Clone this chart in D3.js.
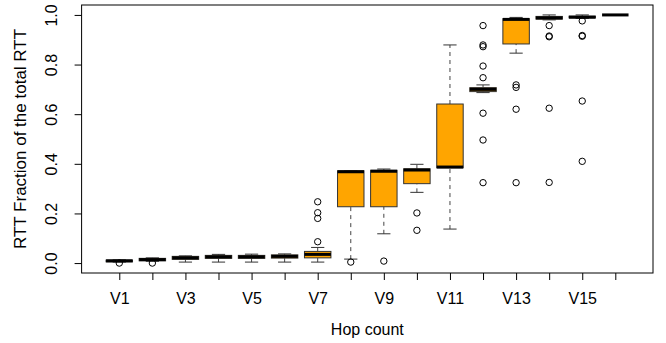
<!DOCTYPE html>
<html>
<head>
<meta charset="utf-8">
<script src="https://cdnjs.cloudflare.com/ajax/libs/d3/7.8.5/d3.min.js"></script>
<style>
  body { margin: 0; background: #fff; }
  text { font-family: "Liberation Sans", Arial, sans-serif; }
</style>
</head>
<body>
<svg id="chart" width="666" height="343"></svg>
<script>
// hop categories
const hops = ['V1','V2','V3','V4','V5','V6','V7','V8','V9','V10','V11','V12','V13','V14','V15','V16'];

// box statistics per hop (fraction of total RTT)
const whiskerLow  = [0.004, 0.007, 0.004, 0.004, 0.004, 0.004, 0.004, 0.016, 0.118, 0.285, 0.137, 0.687, 0.846, 0.980, 0.986, 1.0];
const q1          = [0.005, 0.009, 0.015, 0.019, 0.019, 0.020, 0.021, 0.227, 0.227, 0.320, 0.384, 0.691, 0.883, 0.983, 0.988, 1.0];
const medians     = [0.009, 0.014, 0.021, 0.025, 0.025, 0.027, 0.035, 0.368, 0.370, 0.375, 0.387, 0.700, 0.982, 0.988, 0.991, 1.0];
const q3          = [0.012, 0.019, 0.027, 0.031, 0.031, 0.033, 0.047, 0.372, 0.374, 0.380, 0.641, 0.707, 0.985, 0.994, 0.995, 1.0];
const whiskerHigh = [0.013, 0.021, 0.029, 0.035, 0.036, 0.037, 0.063, 0.372, 0.379, 0.398, 0.879, 0.718, 0.990, 1.0, 1.0, 1.0];
const outliers = [
  [0.0], [0.0], [], [], [], [],
  [0.086, 0.180, 0.203, 0.247],
  [0.004],
  [0.008],
  [0.132, 0.202],
  [],
  [0.324, 0.496, 0.604, 0.747, 0.794, 0.872, 0.879, 0.957],
  [0.324, 0.620, 0.708, 0.718],
  [0.325, 0.624, 0.912, 0.915, 0.957],
  [0.410, 0.653, 0.914, 0.917, 0.976],
  []
];

const yTicks = [0, 0.2, 0.4, 0.6, 0.8, 1.0];

const svg = d3.select('#chart');
const plotL = 81.6, plotR = 653, plotT = 5, plotB = 273;

const x = d3.scaleLinear().domain([-0.14, 17.14]).range([plotL, plotR]);
const y = d3.scaleLinear().domain([-0.04, 1.04]).range([plotB, plotT]);

const boxW = (x(1) - x(0)) * 0.8;
const capW = boxW / 2;

const stats = hops.map((h, i) => ({
  name: h, pos: i + 1,
  lo: whiskerLow[i], q1: q1[i], med: medians[i], q3: q3[i], hi: whiskerHigh[i],
  out: outliers[i]
}));

const g = svg.append('g');
const box = g.selectAll('g.box').data(stats).enter().append('g').attr('class', 'box');

// whiskers, dashed
box.append('line')
  .attr('x1', d => x(d.pos)).attr('x2', d => x(d.pos))
  .attr('y1', d => y(d.lo)).attr('y2', d => y(d.q1))
  .attr('stroke', '#444').attr('stroke-dasharray', '4,4');
box.append('line')
  .attr('x1', d => x(d.pos)).attr('x2', d => x(d.pos))
  .attr('y1', d => y(d.q3)).attr('y2', d => y(d.hi))
  .attr('stroke', '#444').attr('stroke-dasharray', '4,4');

// staples
box.append('line')
  .attr('x1', d => x(d.pos) - capW / 2).attr('x2', d => x(d.pos) + capW / 2)
  .attr('y1', d => y(d.lo)).attr('y2', d => y(d.lo))
  .attr('stroke', '#333');
box.append('line')
  .attr('x1', d => x(d.pos) - capW / 2).attr('x2', d => x(d.pos) + capW / 2)
  .attr('y1', d => y(d.hi)).attr('y2', d => y(d.hi))
  .attr('stroke', '#333');

// boxes
box.append('rect')
  .attr('x', d => x(d.pos) - boxW / 2)
  .attr('width', boxW)
  .attr('y', d => y(d.q3))
  .attr('height', d => y(d.q1) - y(d.q3))
  .attr('fill', 'orange')
  .attr('stroke', '#333');

// medians
box.append('line')
  .attr('x1', d => x(d.pos) - boxW / 2).attr('x2', d => x(d.pos) + boxW / 2)
  .attr('y1', d => y(d.med)).attr('y2', d => y(d.med))
  .attr('stroke', '#000').attr('stroke-width', 3);

// outliers
box.selectAll('circle')
  .data(d => d.out.map(v => ({pos: d.pos, v: v})))
  .enter().append('circle')
  .attr('cx', d => x(d.pos)).attr('cy', d => y(d.v))
  .attr('r', 3.2)
  .attr('fill', 'none').attr('stroke', '#000');

// frame
svg.append('rect')
  .attr('x', plotL).attr('y', plotT)
  .attr('width', plotR - plotL).attr('height', plotB - plotT)
  .attr('fill', 'none').attr('stroke', '#000');

// y axis
const yAxis = svg.append('g')
  .attr('transform', 'translate(' + plotL + ',0)')
  .call(d3.axisLeft(y).tickValues(yTicks).tickSize(7).tickFormat(d3.format('.1f')));
yAxis.select('.domain').remove();
yAxis.selectAll('text')
  .attr('transform', 'rotate(-90)')
  .attr('x', 0).attr('y', -25).attr('dy', 0)
  .attr('text-anchor', 'middle')
  .style('font-size', '16px').attr('fill', '#000');

// x axis
const xAxis = svg.append('g')
  .attr('transform', 'translate(0,' + plotB + ')')
  .call(d3.axisBottom(x).tickValues(d3.range(1, 17)).tickSize(7)
    .tickFormat(d => d % 2 ? hops[d - 1] : ''));
xAxis.select('.domain').remove();
xAxis.selectAll('text')
  .attr('y', 20).attr('dy', '0.71em')
  .style('font-size', '16px').attr('fill', '#000');

// titles
svg.append('text')
  .attr('x', (plotL + plotR) / 2).attr('y', 335)
  .attr('text-anchor', 'middle')
  .style('font-size', '16px')
  .text('Hop count');

svg.append('text')
  .attr('transform', 'translate(26,' + (plotT + plotB) / 2 + ') rotate(-90)')
  .attr('text-anchor', 'middle')
  .style('font-size', '17px')
  .text('RTT Fraction of the total RTT');
</script>
</body>
</html>
